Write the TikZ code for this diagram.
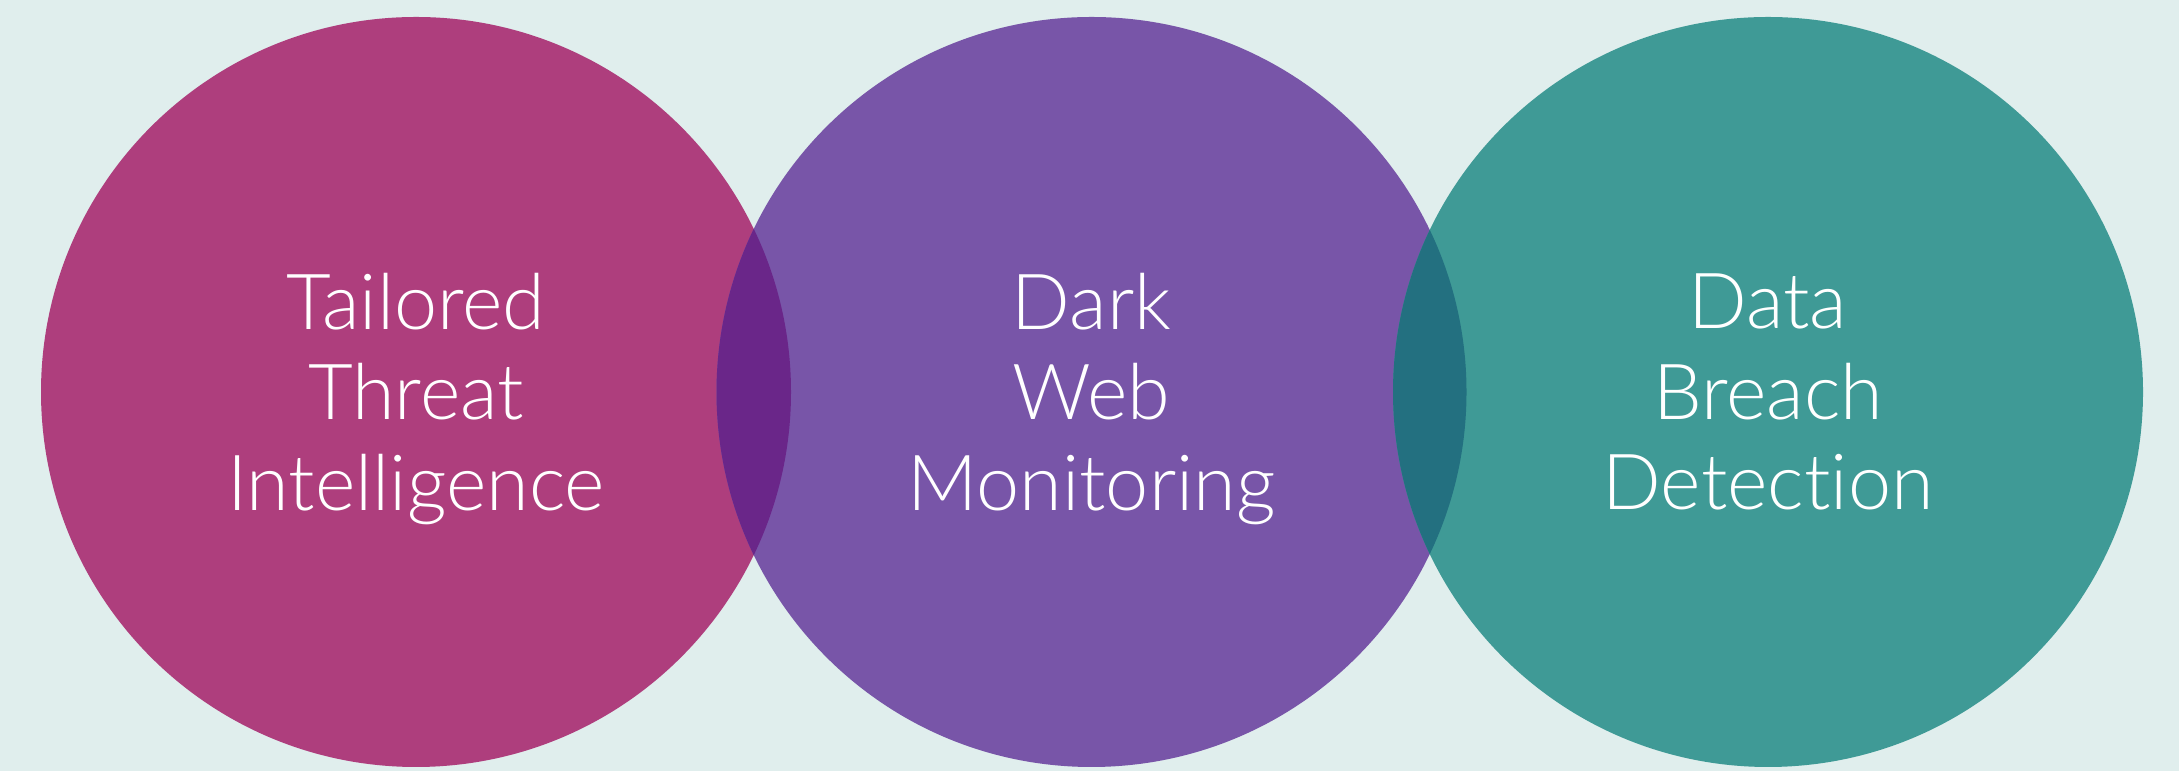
\documentclass[tikz,border=0pt]{standalone}
\usepackage{fontspec}
\setmainfont{Lato}[UprightFont=* Light, Ligatures=CommonOff]
\usepackage{tikz}
\definecolor{bgcol}{HTML}{E0EEED}
\definecolor{pinkcol}{HTML}{AE3E7D}
\definecolor{purplecol}{HTML}{7855A8}
\definecolor{tealcol}{HTML}{3F9A96}
\definecolor{pinkpurple}{HTML}{6A2689}
\definecolor{purpleteal}{HTML}{237080}

\begin{document}
\begin{tikzpicture}[x=0.01cm,y=0.01cm]
		\tikzstyle{every node}+=[inner sep=0pt]
		\tikzstyle{label}=[text=white, align=center, font=\fontsize{22}{25.7}\selectfont]
		\fill [bgcol] (0,0) rectangle (2179,-771);
		\fill [pinkcol] (416,-392) circle (375);
		\fill [purplecol] (1091.5,-392) circle (375);
		\fill [tealcol] (1768,-392) circle (375);
		% overlaps
		\begin{scope}
			\clip (416,-392) circle (375);
			\fill [pinkpurple] (1091.5,-392) circle (375);
		\end{scope}
		\begin{scope}
			\clip (1091.5,-392) circle (375);
			\fill [purpleteal] (1768,-392) circle (375);
		\end{scope}
		\node [label] (threat) at (416,-399) {Tailored\\Threat\\Intelligence};
		\node [label] (darkweb) at (1091.5,-399) {Dark\\Web\\Monitoring};
		\node [label] (breach) at (1768,-392) {Data\\Breach\\Detection};
\end{tikzpicture}
\end{document}
